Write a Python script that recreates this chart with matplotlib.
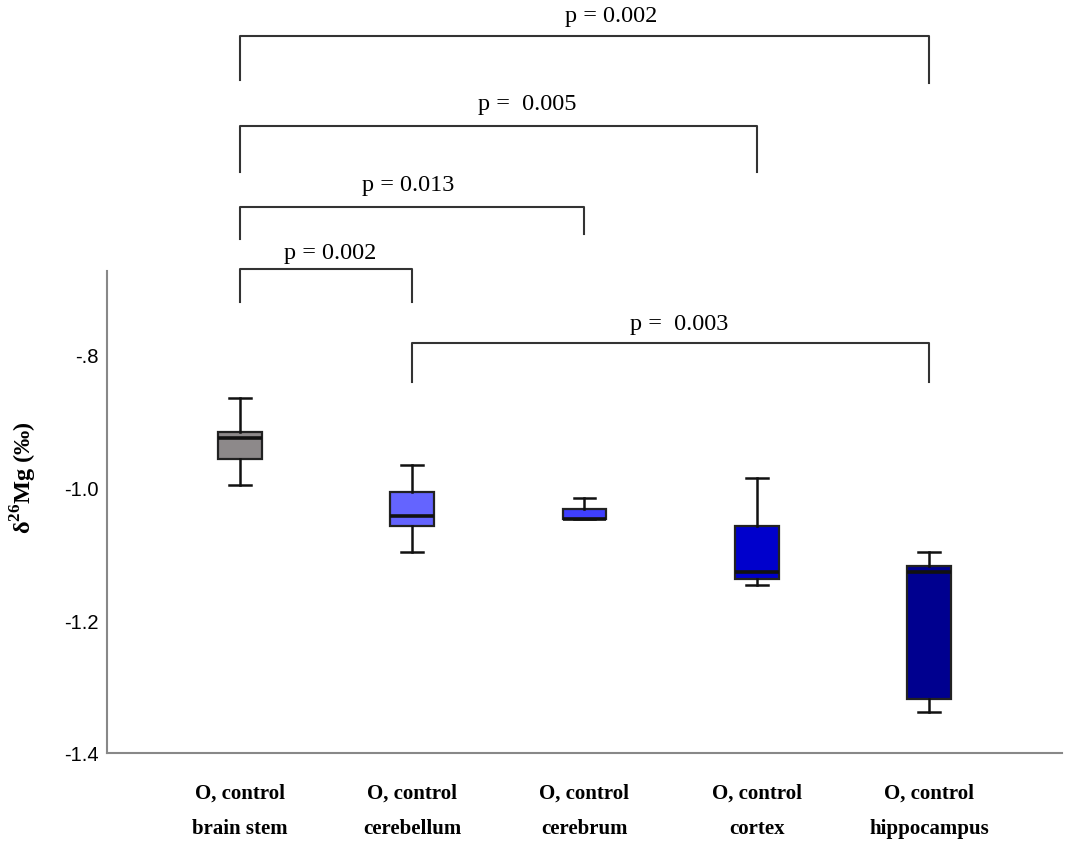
import numpy as np
import matplotlib
matplotlib.use("Agg")
import matplotlib.pyplot as plt

plt.rcParams['mathtext.fontset'] = 'custom'
plt.rcParams['mathtext.rm'] = 'Liberation Serif'
plt.rcParams['mathtext.bf'] = 'Liberation Serif:bold'

# box statistics (delta 26Mg, permil)
groups = ['O, control\nbrain stem', 'O, control\ncerebellum', 'O, control\ncerebrum',
          'O, control\ncortex', 'O, control\nhippocampus']
whishi = [-0.866, -0.967, -1.017, -0.987, -1.098]
q3 = [-0.917, -1.007, -1.033, -1.058, -1.118]
med = [-0.926, -1.043, -1.048, -1.127, -1.127]
q1 = [-0.958, -1.058, -1.048, -1.139, -1.319]
whislo = [-0.997, -1.098, -1.048, -1.148, -1.338]
colors = ['#8d898a', '#6464ff', '#3f3fff', '#0000cc', '#00008f']

# significance brackets: (group a, group b, label)
pairs = [(1, 5, 'p = 0.002'), (1, 4, 'p =  0.005'), (1, 3, 'p = 0.013'),
         (1, 2, 'p = 0.002'), (2, 5, 'p =  0.003')]

fig = plt.figure(figsize=(10.68, 8.54), dpi=100)
ax = fig.add_axes([107/1068, 100/854, 955/1068, 482/854])

pos = np.arange(1, len(groups) + 1)
stats = []
for i in range(len(groups)):
    stats.append(dict(med=med[i], q1=q1[i], q3=q3[i], whislo=whislo[i], whishi=whishi[i],
                      fliers=[]))

bp = ax.bxp(stats, positions=pos, widths=0.255, capwidths=0.125, patch_artist=True,
            showfliers=False,
            boxprops=dict(edgecolor='#222222', linewidth=1.6),
            medianprops=dict(color='#111111', linewidth=2.6),
            whiskerprops=dict(color='#111111', linewidth=1.8),
            capprops=dict(color='#111111', linewidth=1.8))
for patch, c in zip(bp['boxes'], colors):
    patch.set_facecolor(c)

ax.set_xlim(0.228, 5.772)
ax.set_ylim(-1.4, -0.675)

for s in ['top', 'right']:
    ax.spines[s].set_visible(False)
for s in ['left', 'bottom']:
    ax.spines[s].set_color('#888888')
    ax.spines[s].set_linewidth(1.5)

ax.set_yticks([-0.8, -1.0, -1.2, -1.4], ['-.8', '-1.0', '-1.2', '-1.4'])
ax.tick_params(axis='y', length=0, pad=6, labelsize=14.5)
for t in ax.get_yticklabels():
    t.set_fontfamily('Liberation Sans')

ax.set_xticks(pos, groups)
ax.tick_params(axis='x', length=0, pad=21)
for t in ax.get_xticklabels():
    t.set_fontfamily('Liberation Serif')
    t.set_fontweight('bold')
    t.set_fontsize(15)
    t.set_linespacing(2.05)

ax.set_ylabel(r'δ$^{\mathbf{26}}$Mg (‰)', family='Liberation Serif', fontweight='bold',
              fontsize=17.5)
ax.yaxis.set_label_coords(-68/955, (754-478)/482)

# bracket layout: top of bar, left leg end, right leg end, text x, text y
tops = [-0.3215, -0.4565, -0.578, -0.6725, -0.7835]
leg_l = [-0.3875, -0.5255, -0.6275, -0.722, -0.842]
leg_r = [-0.392, -0.5255, -0.620, -0.722, -0.842]
text_x = [3.154, 2.666, 1.975, 1.522, 3.549]
text_y = [-0.290, -0.4235, -0.545, -0.647, -0.7535]

for k, (a, b, lab) in enumerate(pairs):
    ax.plot([a, a, b, b], [leg_l[k], tops[k], tops[k], leg_r[k]], color='#333333',
            linewidth=1.5, clip_on=False)
    ax.text(text_x[k], text_y[k], lab, ha='center', va='center', fontsize=17.5,
            family='Liberation Serif', clip_on=False)

fig.savefig('out.png', dpi=100)
